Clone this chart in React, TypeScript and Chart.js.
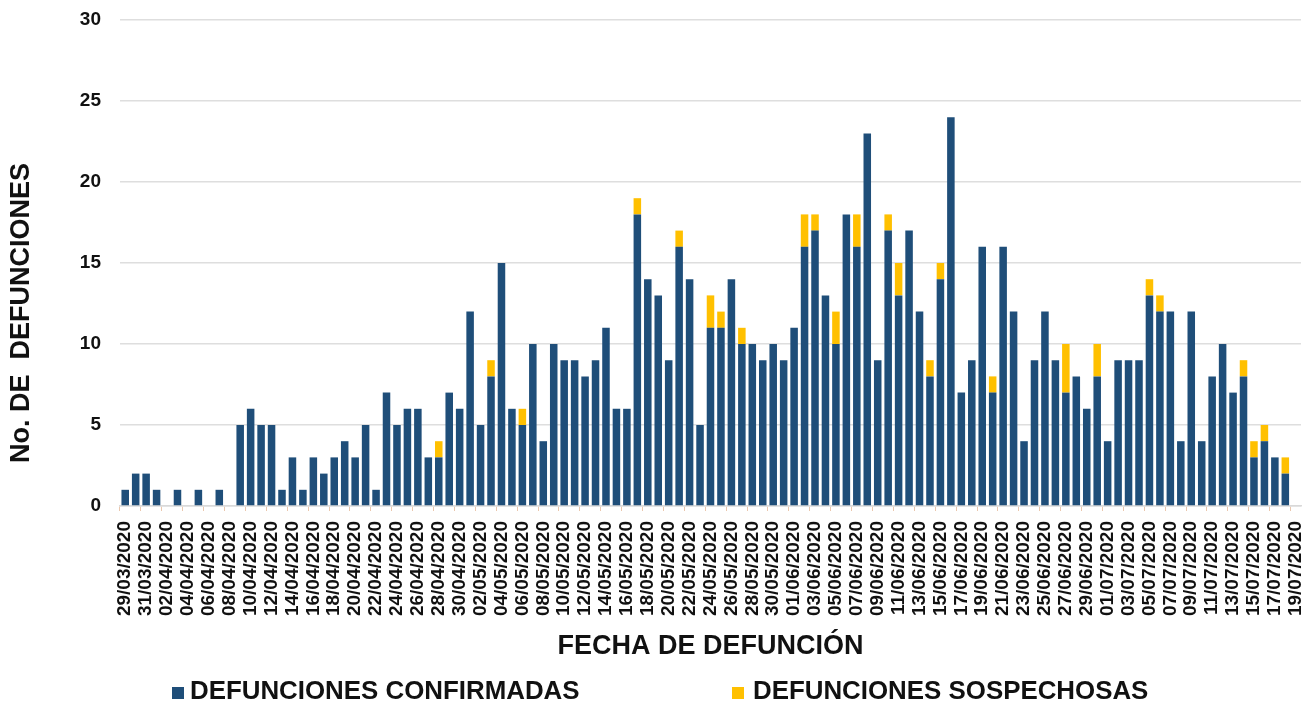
import React, { useEffect, useRef } from "react";
import { Chart, registerables } from "chart.js";

Chart.register(...registerables);

// ---- data ----
const dateLabels: string[] = [
  "29/03/2020", "30/03/2020", "31/03/2020",
  "01/04/2020", "02/04/2020", "03/04/2020", "04/04/2020", "05/04/2020", "06/04/2020", "07/04/2020", "08/04/2020", "09/04/2020", "10/04/2020",
  "11/04/2020", "12/04/2020", "13/04/2020", "14/04/2020", "15/04/2020", "16/04/2020", "17/04/2020", "18/04/2020", "19/04/2020", "20/04/2020",
  "21/04/2020", "22/04/2020", "23/04/2020", "24/04/2020", "25/04/2020", "26/04/2020", "27/04/2020", "28/04/2020", "29/04/2020", "30/04/2020",
  "01/05/2020", "02/05/2020", "03/05/2020", "04/05/2020", "05/05/2020", "06/05/2020", "07/05/2020", "08/05/2020", "09/05/2020", "10/05/2020",
  "11/05/2020", "12/05/2020", "13/05/2020", "14/05/2020", "15/05/2020", "16/05/2020", "17/05/2020", "18/05/2020", "19/05/2020", "20/05/2020",
  "21/05/2020", "22/05/2020", "23/05/2020", "24/05/2020", "25/05/2020", "26/05/2020", "27/05/2020", "28/05/2020", "29/05/2020", "30/05/2020", "31/05/2020",
  "01/06/2020", "02/06/2020", "03/06/2020", "04/06/2020", "05/06/2020", "06/06/2020", "07/06/2020", "08/06/2020", "09/06/2020", "10/06/2020",
  "11/06/2020", "12/06/2020", "13/06/2020", "14/06/2020", "15/06/2020", "16/06/2020", "17/06/2020", "18/06/2020", "19/06/2020", "20/06/2020",
  "21/06/2020", "22/06/2020", "23/06/2020", "24/06/2020", "25/06/2020", "26/06/2020", "27/06/2020", "28/06/2020", "29/06/2020", "30/06/2020",
  "01/07/2020", "02/07/2020", "03/07/2020", "04/07/2020", "05/07/2020", "06/07/2020", "07/07/2020", "08/07/2020", "09/07/2020", "10/07/2020",
  "11/07/2020", "12/07/2020", "13/07/2020", "14/07/2020", "15/07/2020", "16/07/2020", "17/07/2020", "18/07/2020", "19/07/2020",
];

const confirmadas: number[] = [
  1, 2, 2,
  1, 0, 1, 0, 1, 0, 1, 0, 5, 6,
  5, 5, 1, 3, 1, 3, 2, 3, 4, 3,
  5, 1, 7, 5, 6, 6, 3, 3, 7, 6,
  12, 5, 8, 15, 6, 5, 10, 4, 10, 9,
  9, 8, 9, 11, 6, 6, 18, 14, 13, 9,
  16, 14, 5, 11, 11, 14, 10, 10, 9, 10, 9,
  11, 16, 17, 13, 10, 18, 16, 23, 9, 17,
  13, 17, 12, 8, 14, 24, 7, 9, 16, 7,
  16, 12, 4, 9, 12, 9, 7, 8, 6, 8,
  4, 9, 9, 9, 13, 12, 12, 4, 12, 4,
  8, 10, 7, 8, 3, 4, 3, 2, 0,
];

const sospechosas: number[] = [
  0, 0, 0,
  0, 0, 0, 0, 0, 0, 0, 0, 0, 0,
  0, 0, 0, 0, 0, 0, 0, 0, 0, 0,
  0, 0, 0, 0, 0, 0, 0, 1, 0, 0,
  0, 0, 1, 0, 0, 1, 0, 0, 0, 0,
  0, 0, 0, 0, 0, 0, 1, 0, 0, 0,
  1, 0, 0, 2, 1, 0, 1, 0, 0, 0, 0,
  0, 2, 1, 0, 2, 0, 2, 0, 0, 1,
  2, 0, 0, 1, 1, 0, 0, 0, 0, 1,
  0, 0, 0, 0, 0, 0, 3, 0, 0, 2,
  0, 0, 0, 0, 1, 1, 0, 0, 0, 0,
  0, 0, 0, 1, 1, 1, 0, 1, 0,
];

const seriesNames: string[] = ["DEFUNCIONES CONFIRMADAS", "DEFUNCIONES SOSPECHOSAS"];
const seriesColors: string[] = ["#1F4E79", "#FFC000"];
const yTitle = "No. DE  DEFUNCIONES";
const xTitle = "FECHA DE DEFUNCIÓN";
const yMin = 0;
const yMax = 30;
const yStep = 5;

const FONT = "'Liberation Sans', Arial, Helvetica, sans-serif";
const TEXT = "#111111";

const yTitlePlugin = {
  id: "yTitleDraw",
  afterDraw(chart: any) {
    const ctx = chart.ctx;
    ctx.save();
    ctx.font = `bold 27px ${FONT}`;
    ctx.fillStyle = TEXT;
    ctx.textAlign = "center";
    ctx.textBaseline = "middle";
    ctx.translate(22, 313);
    ctx.rotate(-Math.PI / 2);
    ctx.fillText(yTitle, 0, 0);
    ctx.restore();
  },
};

const legendPlugin = {
  id: "legendDraw",
  afterDraw(chart: any) {
    const ctx = chart.ctx;
    const slots = [
      { box: 172, text: 190 },
      { box: 732, text: 753 },
    ];
    chart.data.datasets.forEach((ds: any, i: number) => {
      const s = slots[i];
      ctx.save();
      ctx.fillStyle = ds.backgroundColor;
      ctx.fillRect(s.box, 687, 12, 12);
      ctx.font = `bold 25px ${FONT}`;
      ctx.textBaseline = "middle";
      ctx.textAlign = "left";
      ctx.fillStyle = TEXT;
      ctx.translate(s.text, 692);
      ctx.scale(1.035, 1);
      ctx.fillText(ds.label, 0, 0);
      ctx.restore();
    });
  },
};

export default function App() {
  const canvasRef = useRef<HTMLCanvasElement | null>(null);

  useEffect(() => {
    document.body.style.margin = "0";
    const canvas = canvasRef.current;
    if (!canvas) return;
    const chart = new Chart(canvas, {
      type: "bar",
      data: {
        labels: dateLabels,
        datasets: [
          {
            label: seriesNames[0],
            data: confirmadas,
            backgroundColor: seriesColors[0],
            categoryPercentage: 1,
            barPercentage: 0.72,
          },
          {
            label: seriesNames[1],
            data: sospechosas,
            backgroundColor: seriesColors[1],
            categoryPercentage: 1,
            barPercentage: 0.72,
          },
        ],
      },
      options: {
        responsive: false,
        animation: false,
        events: [],
        layout: { padding: { top: 20, right: 6, left: 0, bottom: 0 } },
        plugins: {
          legend: { display: false },
          tooltip: { enabled: false },
          title: { display: false },
        },
        scales: {
          x: {
            stacked: true,
            grid: {
              display: true,
              drawOnChartArea: false,
              drawTicks: true,
              tickLength: 5,
              color: (c: any) => (c.index % 2 === 0 ? "rgba(225,175,140,0.7)" : "rgba(0,0,0,0)"),
            },
            border: { display: true, color: "#d9d9d9", width: 1.5 },
            ticks: {
              autoSkip: false,
              minRotation: 90,
              maxRotation: 90,
              padding: 10,
              color: TEXT,
              font: { family: FONT, size: 19, weight: "bold" },
              callback: (_v: any, i: number) => (i % 2 === 0 ? dateLabels[i] : ""),
            },
            title: {
              display: true,
              text: xTitle,
              color: TEXT,
              font: { family: FONT, size: 27, weight: "bold" },
              padding: { top: 0, bottom: 46 },
            },
            afterFit: (scale: any) => {
              scale.height = 203;
              scale.paddingLeft = 0;
              scale.paddingRight = 0;
            },
          },
          y: {
            stacked: true,
            min: yMin,
            max: yMax,
            grid: {
              display: true,
              drawTicks: false,
              color: "#dedede",
              lineWidth: 1.5,
            },
            border: { display: false },
            ticks: {
              stepSize: yStep,
              padding: 19,
              color: TEXT,
              font: { family: FONT, size: 19, weight: "bold" },
            },
            afterFit: (scale: any) => {
              scale.width = 120;
              scale.paddingTop = 0;
              scale.paddingBottom = 0;
            },
          },
        },
      },
      plugins: [yTitlePlugin, legendPlugin],
    } as any);
    return () => chart.destroy();
  }, []);

  return (
    <div style={{ width: 1307, height: 709, position: "relative", background: "#fff" }}>
      <canvas ref={canvasRef} width={1307} height={709} style={{ display: "block" }} />
    </div>
  );
}
